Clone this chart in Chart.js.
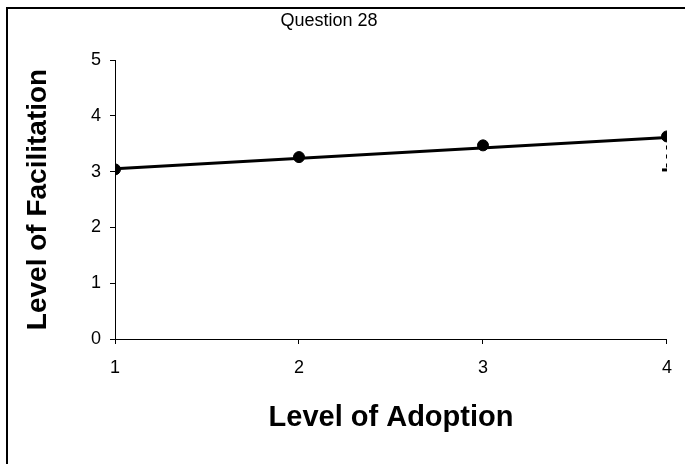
<!DOCTYPE html>
<html>
<head>
<meta charset="utf-8">
<script src="https://cdn.jsdelivr.net/npm/chart.js@4/dist/chart.umd.min.js"></script>
<style>
  html, body { margin: 0; padding: 0; background: #fff; }
  #wrap { width: 685px; height: 464px; position: relative; }
</style>
</head>
<body>
<div id="wrap"><canvas id="chart"></canvas></div>
<script>
// Datos
const adoptionLevels = [1, 2, 3, 4];
const facilitation = [3.04, 3.26, 3.47, 3.63];
const trendX = [1, 4];
const trendY = [3.05, 3.61];
const errorX = [4, 4];
const errorY = [3.63, 3.03];
const yTicks = [0, 1, 2, 3, 4, 5];

const FONT = "'Liberation Sans', Arial, sans-serif";

// Marco exterior y título
const framePlugin = {
    id: 'frame',
    afterDraw(chart) {
        const ctx = chart.ctx;
        ctx.save();
        ctx.strokeStyle = '#000';
        ctx.lineWidth = 2;
        ctx.strokeRect(7, 8, 700, 500);
        ctx.fillStyle = '#000';
        ctx.font = '18px ' + FONT;
        ctx.textAlign = 'center';
        ctx.textBaseline = 'middle';
        ctx.fillText('Question 28', 329, 21);
        ctx.restore();
    }
};

function toPoints(xs, ys) {
    return xs.map((x, i) => ({ x: x, y: ys[i] }));
}

const ctx = document.getElementById('chart').getContext('2d');
new Chart(ctx, {
    type: 'line',
    data: {
        datasets: [{
            label: 'Trend',
            data: toPoints(trendX, trendY),
            borderColor: '#000',
            borderWidth: 3,
            pointRadius: 0
        }, {
            label: 'Question 28',
            data: toPoints(adoptionLevels, facilitation),
            showLine: false,
            pointRadius: 5.5,
            pointBackgroundColor: '#000',
            pointBorderColor: '#000'
        }, {
            label: 'Error',
            data: toPoints(errorX, errorY),
            borderColor: '#000',
            borderWidth: 2,
            borderDash: [4, 5],
            pointStyle: 'line',
            pointRadius: [0, 5],
            pointBorderWidth: 3,
            pointBorderColor: '#000'
        }]
    },
    options: {
        responsive: true,
        maintainAspectRatio: false,
        animation: false,
        layout: { padding: { left: 0, right: 18, top: 60, bottom: 0 } },
        plugins: {
            legend: { display: false },
            tooltip: { enabled: false }
        },
        scales: {
            x: {
                type: 'linear',
                min: 1,
                max: 4,
                afterBuildTicks(axis) {
                    axis.ticks = adoptionLevels.map(v => ({ value: v }));
                },
                afterFit(axis) { axis.height = 125; },
                border: { color: '#000', width: 1 },
                grid: { drawOnChartArea: false, drawTicks: true, tickLength: 5, color: '#000' },
                ticks: { color: '#000', font: { family: FONT, size: 18 }, padding: 13, maxRotation: 0 },
                title: {
                    display: true,
                    text: 'Level of Adoption',
                    color: '#000',
                    font: { family: FONT, size: 29, weight: 'bold' },
                    padding: { top: 0, bottom: 29 }
                }
            },
            y: {
                min: 0,
                max: 5,
                afterBuildTicks(axis) {
                    axis.ticks = yTicks.map(v => ({ value: v }));
                },
                afterFit(axis) { axis.width = 115; },
                border: { color: '#000', width: 1 },
                grid: { drawOnChartArea: false, drawTicks: true, tickLength: 5, color: '#000' },
                ticks: { color: '#000', font: { family: FONT, size: 18 }, padding: 9 },
                title: {
                    display: true,
                    text: 'Level of Facilitation',
                    color: '#000',
                    font: { family: FONT, size: 28, weight: 'bold' },
                    padding: { top: 21, bottom: 0 }
                }
            }
        }
    },
    plugins: [framePlugin]
});
</script>
</body>
</html>
